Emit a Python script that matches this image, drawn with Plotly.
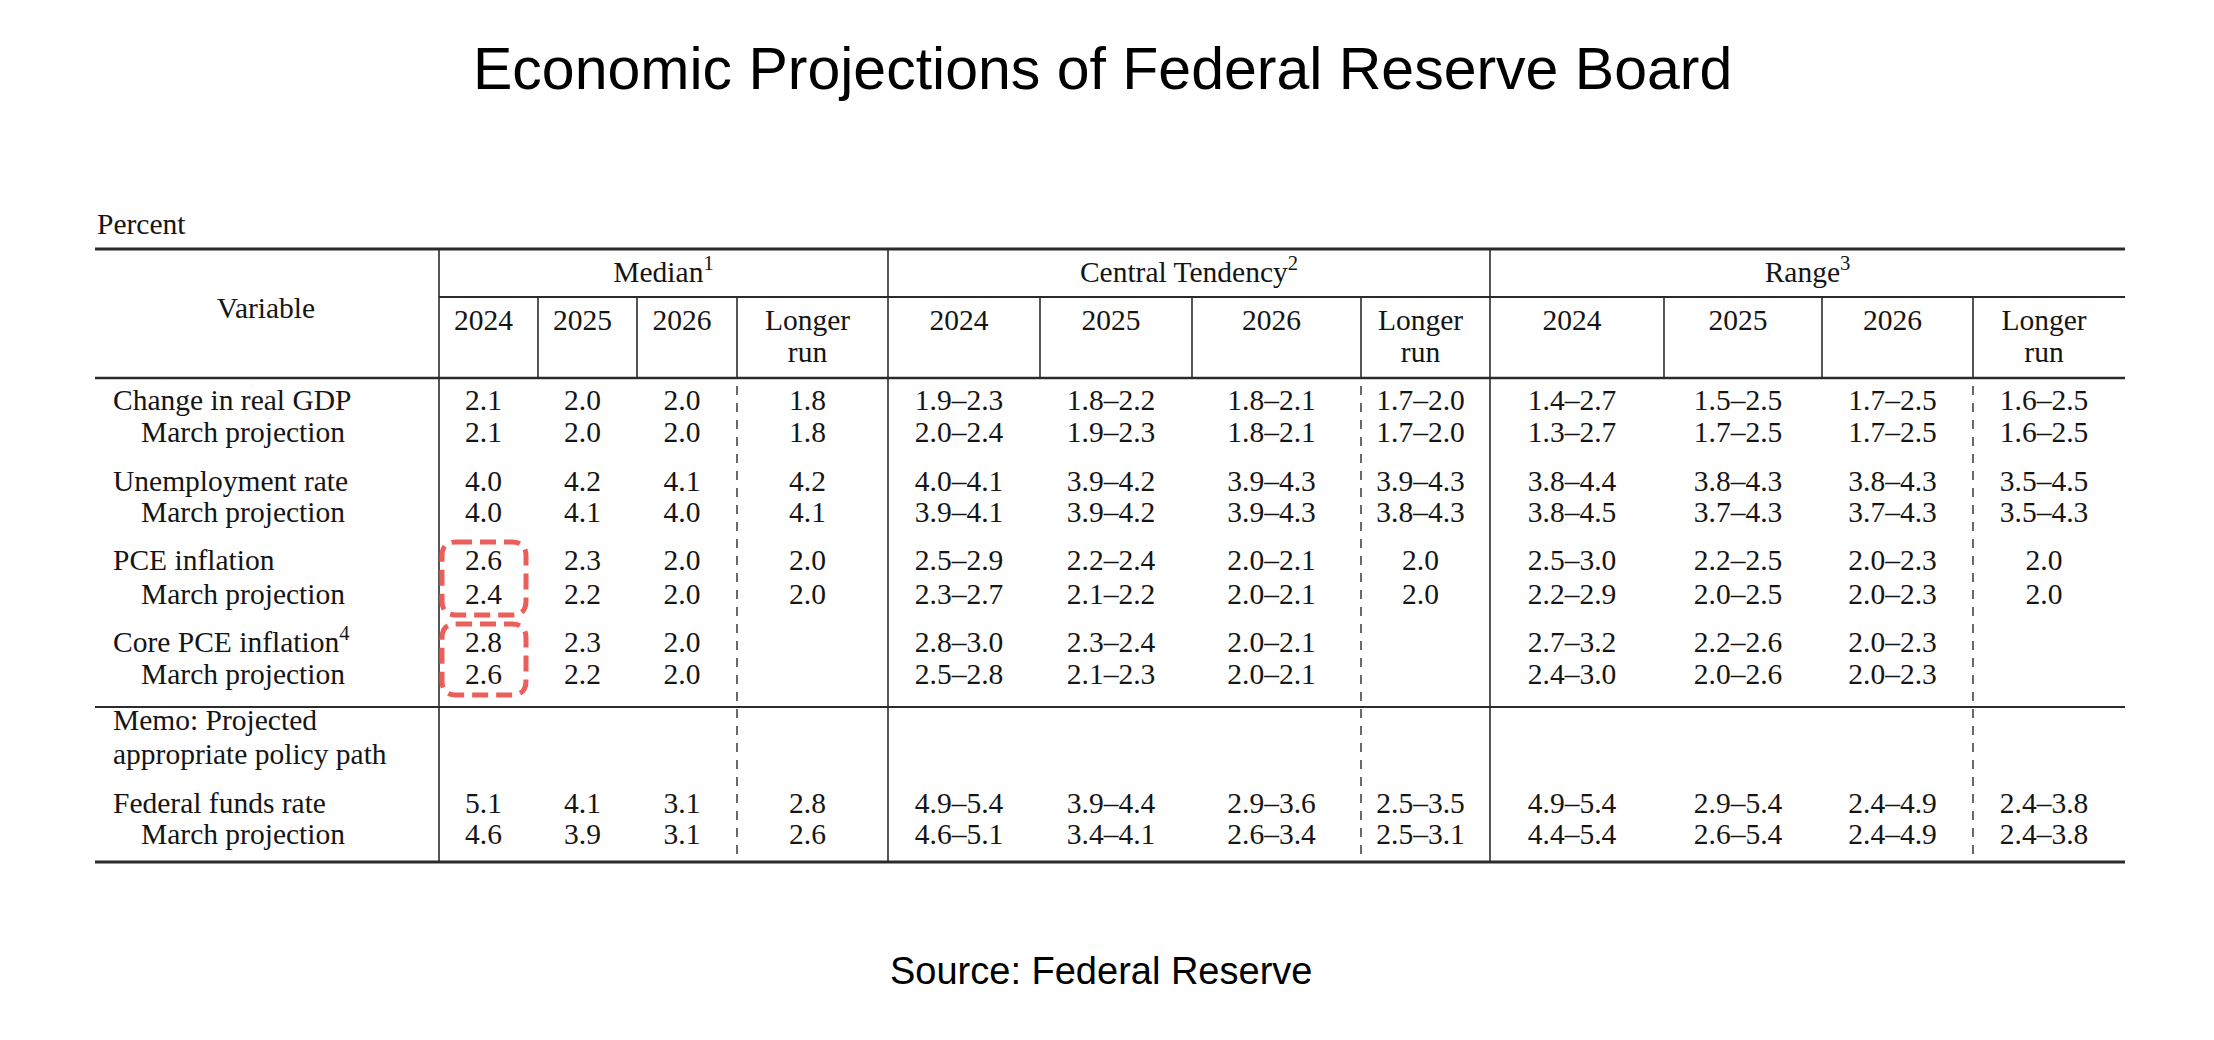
import plotly.graph_objects as go

# ---- data -------------------------------------------------------------
row_labels = ["Change in real GDP", "March projection",
              "Unemployment rate", "March projection",
              "PCE inflation", "March projection",
              "Core PCE inflation<sup>4</sup>", "March projection",
              "Federal funds rate", "March projection"]
row_indent = [False, True, False, True, False, True, False, True, False, True]

groups = ["Median<sup>1</sup>", "Central Tendency<sup>2</sup>", "Range<sup>3</sup>"]
years = ["2024", "2025", "2026", "Longer run"]

median = [
    ["2.1", "2.0", "2.0", "1.8"],
    ["2.1", "2.0", "2.0", "1.8"],
    ["4.0", "4.2", "4.1", "4.2"],
    ["4.0", "4.1", "4.0", "4.1"],
    ["2.6", "2.3", "2.0", "2.0"],
    ["2.4", "2.2", "2.0", "2.0"],
    ["2.8", "2.3", "2.0", ""],
    ["2.6", "2.2", "2.0", ""],
    ["5.1", "4.1", "3.1", "2.8"],
    ["4.6", "3.9", "3.1", "2.6"],
]
central_tendency = [
    ["1.9–2.3", "1.8–2.2", "1.8–2.1", "1.7–2.0"],
    ["2.0–2.4", "1.9–2.3", "1.8–2.1", "1.7–2.0"],
    ["4.0–4.1", "3.9–4.2", "3.9–4.3", "3.9–4.3"],
    ["3.9–4.1", "3.9–4.2", "3.9–4.3", "3.8–4.3"],
    ["2.5–2.9", "2.2–2.4", "2.0–2.1", "2.0"],
    ["2.3–2.7", "2.1–2.2", "2.0–2.1", "2.0"],
    ["2.8–3.0", "2.3–2.4", "2.0–2.1", ""],
    ["2.5–2.8", "2.1–2.3", "2.0–2.1", ""],
    ["4.9–5.4", "3.9–4.4", "2.9–3.6", "2.5–3.5"],
    ["4.6–5.1", "3.4–4.1", "2.6–3.4", "2.5–3.1"],
]
value_range = [
    ["1.4–2.7", "1.5–2.5", "1.7–2.5", "1.6–2.5"],
    ["1.3–2.7", "1.7–2.5", "1.7–2.5", "1.6–2.5"],
    ["3.8–4.4", "3.8–4.3", "3.8–4.3", "3.5–4.5"],
    ["3.8–4.5", "3.7–4.3", "3.7–4.3", "3.5–4.3"],
    ["2.5–3.0", "2.2–2.5", "2.0–2.3", "2.0"],
    ["2.2–2.9", "2.0–2.5", "2.0–2.3", "2.0"],
    ["2.7–3.2", "2.2–2.6", "2.0–2.3", ""],
    ["2.4–3.0", "2.0–2.6", "2.0–2.3", ""],
    ["4.9–5.4", "2.9–5.4", "2.4–4.9", "2.4–3.8"],
    ["4.4–5.4", "2.6–5.4", "2.4–4.9", "2.4–3.8"],
]
memo_lines = ["Memo: Projected", "appropriate policy path"]
# highlighted cells: (first row, last row, column) in the median block
highlights = [(4, 5, 0), (6, 7, 0)]

# ---- layout geometry (page pixels) -----------------------------------
W, H = 2214, 1040
left, right = 95, 2125
col_edges = [439, 538, 637, 737, 888, 1040, 1192, 1361, 1490, 1664, 1822, 1973, right]
y_top, y_grp, y_head, y_sep, y_bot = 249, 297, 378, 707, 862
row_y = [403, 435, 484, 515, 563, 597, 645, 677, 806, 837]
memo_y = [723, 757]
serif = "Liberation Serif, Times New Roman, serif"
sans = "Liberation Sans, Arial, sans-serif"
fs = 29.5

def col_center(i):
    return (col_edges[i] + col_edges[i + 1]) / 2 - 5

xs, ys, texts, pos = [], [], [], []

def put(x, y, t, p="middle center"):
    xs.append(x); ys.append(y); texts.append(t); pos.append(p)

# header
put(97, 227, "Percent", "middle right")
put(266, 311, "Variable")
for g, name in enumerate(groups):
    put((col_edges[4 * g] + col_edges[4 * g + 4]) / 2, 275, name)
    for k, yr in enumerate(years):
        c = col_center(4 * g + k)
        if yr == "Longer run":
            put(c, 323, "Longer")
            put(c, 355, "run")
        else:
            put(c, 323, yr)

# body
for r, lab in enumerate(row_labels):
    put(141 if row_indent[r] else 113, row_y[r], lab, "middle right")
    for g, block in enumerate([median, central_tendency, value_range]):
        for k in range(4):
            if block[r][k]:
                put(col_center(4 * g + k), row_y[r], block[r][k])
for y, t in zip(memo_y, memo_lines):
    put(113, y, t, "middle right")

fig = go.Figure(go.Scatter(
    x=xs, y=ys, text=texts, mode="text", textposition=pos,
    textfont=dict(family=serif, size=fs, color="#151515"),
    hoverinfo="skip", showlegend=False,
))

line_col = "#2b2b2b"
shapes = []
def hline(y, x0, x1, w):
    shapes.append(dict(type="line", x0=x0, x1=x1, y0=y, y1=y, line=dict(color=line_col, width=w)))
def vline(x, y0, y1, w=1.6, dash="solid"):
    shapes.append(dict(type="line", x0=x, x1=x, y0=y0, y1=y1, line=dict(color=line_col, width=w, dash=dash)))

hline(y_top, left, right, 3.2)
hline(y_grp, col_edges[0], right, 2)
hline(y_head, left, right, 2.4)
hline(y_sep, left, right, 2)
hline(y_bot, left, right, 3.2)
for i in (0, 4, 8):
    vline(col_edges[i], y_top, y_bot)
for i in (1, 2, 3, 5, 6, 7, 9, 10, 11):
    vline(col_edges[i], y_grp, y_head)
for i in (3, 7, 11):
    vline(col_edges[i], y_head + 8, y_bot, 1.4, "9px,8px")

# rounded dashed highlight boxes
for r0, r1, c in highlights:
    x0, x1 = col_edges[c] + 3, col_edges[c + 1] - 12
    y0, y1 = row_y[r0] - 21, row_y[r1] + 18
    rr = 14
    path = (f"M{x0+rr},{y0} L{x1-rr},{y0} Q{x1},{y0} {x1},{y0+rr} "
            f"L{x1},{y1-rr} Q{x1},{y1} {x1-rr},{y1} L{x0+rr},{y1} "
            f"Q{x0},{y1} {x0},{y1-rr} L{x0},{y0+rr} Q{x0},{y0} {x0+rr},{y0} Z")
    shapes.append(dict(type="path", path=path, line=dict(color="#EB5F5A", width=5, dash="16px,8px")))

fig.update_layout(
    width=W, height=H,
    margin=dict(l=0, r=0, t=0, b=0),
    paper_bgcolor="white", plot_bgcolor="white",
    xaxis=dict(range=[0, W], visible=False, fixedrange=True),
    yaxis=dict(range=[H, 0], visible=False, fixedrange=True),
    shapes=shapes,
    hovermode=False,
    annotations=[
        dict(text="Economic Projections of Federal Reserve Board", x=1102, y=69,
             xref="x", yref="y", showarrow=False,
             font=dict(family=sans, size=59, color="black")),
        dict(text="Source: Federal Reserve", x=1101, y=971,
             xref="x", yref="y", showarrow=False,
             font=dict(family=sans, size=38, color="black")),
    ],
)

fig.write_html("out.html", config={"displayModeBar": False},
               post_script="document.body.style.margin='0';")
